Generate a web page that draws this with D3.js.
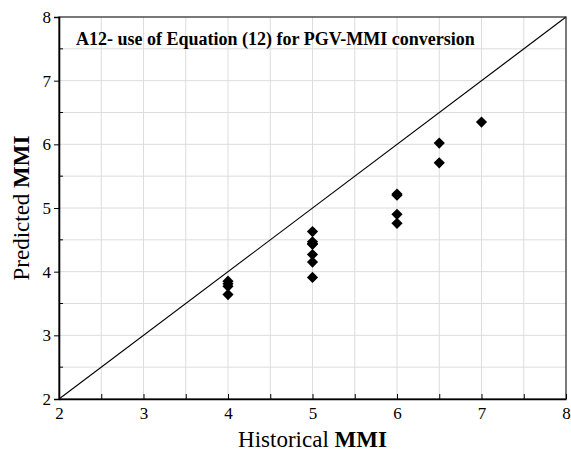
<!DOCTYPE html>
<html lang="en">
<head>
<meta charset="UTF-8">
<title>Predicted vs Historical MMI</title>
<script src="https://cdn.jsdelivr.net/npm/d3@7"></script>
<style>
    html, body { margin: 0; background: #fff; }
    svg text { font-family: "Liberation Serif", "Times New Roman", serif; }
</style>
</head>
<body>
<div id="chart"></div>
<script>
    // Historical MMI (x) and predicted MMI (y)
    const historical = [4, 4, 4, 4, 5, 5, 5, 5, 5, 5, 5, 6, 6, 6, 6, 6.5, 6.5, 7];
    const predicted  = [3.85, 3.81, 3.77, 3.64, 4.63, 4.47, 4.43, 4.27, 4.15, 3.91, 4.44, 5.22, 5.20, 4.90, 4.76, 6.02, 5.71, 6.35];
    const majorTicks = [2, 3, 4, 5, 6, 7, 8];
    const gridTicks = d3.range(2, 8.01, 0.5);
    const title = "A12- use of Equation (12) for PGV-MMI conversion";

    const width = 571, height = 457;
    const margin = { top: 17, right: 5, bottom: 58, left: 59 };
    const serif = "'Liberation Serif', 'Times New Roman', serif";

    const x = d3.scaleLinear().domain([2, 8]).range([margin.left, width - margin.right]);
    const y = d3.scaleLinear().domain([2, 8]).range([height - margin.bottom, margin.top]);

    const svg = d3.select("#chart").append("svg")
        .attr("width", width)
        .attr("height", height)
        .attr("font-family", serif);

    // grid
    const grid = svg.append("g").attr("stroke", "#dcdcdc").attr("stroke-width", 1);
    grid.selectAll("line.v")
        .data(gridTicks.slice(1, -1))
        .join("line")
        .attr("class", "v")
        .attr("x1", d => x(d)).attr("x2", d => x(d))
        .attr("y1", y(2)).attr("y2", y(8));
    grid.selectAll("line.h")
        .data(gridTicks.slice(1, -1))
        .join("line")
        .attr("class", "h")
        .attr("y1", d => y(d)).attr("y2", d => y(d))
        .attr("x1", x(2)).attr("x2", x(8));

    // 1:1 line
    svg.append("line")
        .attr("x1", x(2)).attr("y1", y(2))
        .attr("x2", x(8)).attr("y2", y(8))
        .attr("stroke", "#000").attr("stroke-width", 1.1);

    // frame
    svg.append("rect")
        .attr("x", x(2)).attr("y", y(8))
        .attr("width", x(8) - x(2)).attr("height", y(2) - y(8))
        .attr("fill", "none").attr("stroke", "#222").attr("stroke-width", 1.2);

    // x axis: ticks pointing inward
    const xAxis = svg.append("g")
        .attr("transform", `translate(0,${y(2)})`)
        .call(d3.axisBottom(x).tickValues(gridTicks).tickSizeInner(-5).tickSizeOuter(0)
            .tickFormat(d => Number.isInteger(d) ? d3.format("d")(d) : ""));
    xAxis.attr("font-family", serif);
    xAxis.select(".domain").attr("stroke-width", 1.6);
    xAxis.selectAll(".tick text")
        .attr("y", 8).attr("font-size", 17).attr("fill", "#000");

    // y axis: major ticks outward, minor ticks inward
    const yAxis = svg.append("g")
        .attr("transform", `translate(${x(2)},0)`)
        .call(d3.axisLeft(y).tickValues(majorTicks).tickFormat(d3.format("d")).tickSize(5).tickPadding(3));
    yAxis.attr("font-family", serif);
    yAxis.select(".domain").attr("stroke-width", 1.6);
    yAxis.selectAll(".tick text")
        .attr("font-size", 17).attr("fill", "#000");
    svg.append("g").selectAll("line")
        .data(gridTicks.filter(d => !Number.isInteger(d)))
        .join("line")
        .attr("x1", x(2)).attr("x2", x(2) + 4)
        .attr("y1", d => y(d)).attr("y2", d => y(d))
        .attr("stroke", "#000");

    // points as diamonds
    const r = 5.6;
    svg.append("g").selectAll("path")
        .data(historical.map((h, i) => [h, predicted[i]]))
        .join("path")
        .attr("d", d => {
            const cx = x(d[0]), cy = y(d[1]);
            return `M${cx},${cy - r}L${cx + r},${cy}L${cx},${cy + r}L${cx - r},${cy}Z`;
        })
        .attr("fill", "#000");

    // title inside the plot
    svg.append("text")
        .attr("x", 76).attr("y", 45)
        .attr("font-size", 18).attr("font-weight", "bold")
        .attr("font-family", serif)
        .text(title);

    // axis labels
    const xl = svg.append("text")
        .attr("x", (x(2) + x(8)) / 2).attr("y", 447)
        .attr("text-anchor", "middle").attr("font-size", 23)
        .attr("font-family", serif);
    xl.append("tspan").text("Historical ");
    xl.append("tspan").attr("font-weight", "bold").text("MMI");

    const yl = svg.append("text")
        .attr("transform", `translate(29,${(y(2) + y(8)) / 2}) rotate(-90)`)
        .attr("text-anchor", "middle").attr("font-size", 23)
        .attr("font-family", serif);
    yl.append("tspan").text("Predicted ");
    yl.append("tspan").attr("font-weight", "bold").text("MMI");
</script>
</body>
</html>
